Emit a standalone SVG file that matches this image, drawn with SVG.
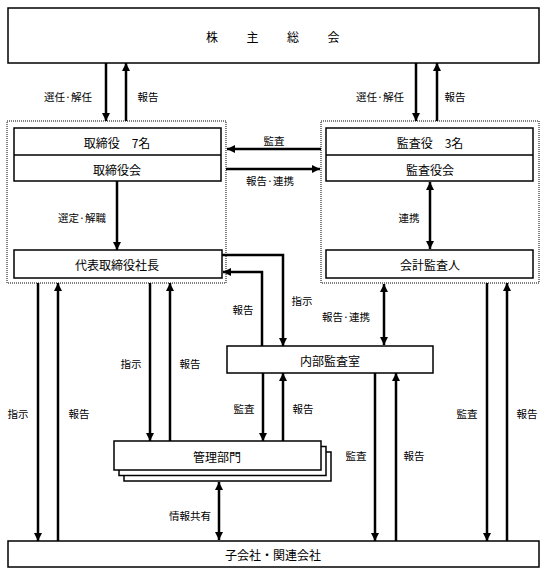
<svg xmlns="http://www.w3.org/2000/svg" width="545" height="572" viewBox="0 0 545 572">
<style>
.box{fill:#fff;stroke:#000;stroke-width:1.5}
.dot{fill:none;stroke:#000;stroke-width:1;stroke-dasharray:1 1}
.ln{fill:none;stroke:#000;stroke-width:2.5}
.t{font-family:"Noto Sans CJK JP","Noto Sans CJK SC",sans-serif;font-size:12px;fill:#000;text-anchor:middle;dominant-baseline:central}
.l{font-family:"Noto Sans CJK JP","Noto Sans CJK SC",sans-serif;font-size:10.5px;fill:#000;text-anchor:middle;dominant-baseline:central}
</style>
<defs>
<marker id="ah" markerUnits="userSpaceOnUse" markerWidth="9" markerHeight="8" refX="8" refY="4" orient="auto-start-reverse" viewBox="0 0 9 8">
<path d="M0,0 L8,4 L0,8 z" fill="#000"/>
</marker>
</defs>
<rect width="545" height="572" fill="#fff"/>

<g id="agm">
<rect class="box" x="8" y="8" width="531" height="55"/>
<text class="t" x="206" y="36" style="text-anchor:start;letter-spacing:8.25px">株　主　総　会</text>
</g>

<g id="board-group">
<rect class="dot" x="7" y="121" width="219" height="162"/>
</g>
<g id="board">
<rect class="box" x="14" y="128" width="207" height="53"/>
<line x1="14" y1="155" x2="221" y2="155" stroke="#000" stroke-width="1.5"/>
<text class="t" x="117" y="142">取締役　7名</text>
<text class="t" x="117" y="169">取締役会</text>
</g>
<g id="president">
<rect class="box" x="14" y="250" width="208" height="28"/>
<text class="t" x="117" y="264">代表取締役社長</text>
</g>

<g id="auditor-group">
<rect class="dot" x="321" y="121" width="218" height="162"/>
</g>
<g id="auditors">
<rect class="box" x="326" y="128" width="207" height="53"/>
<line x1="326" y1="155" x2="533" y2="155" stroke="#000" stroke-width="1.5"/>
<text class="t" x="430" y="142">監査役　3名</text>
<text class="t" x="430" y="169">監査役会</text>
</g>
<g id="accounting-auditor">
<rect class="box" x="326" y="250" width="207" height="28"/>
<text class="t" x="430" y="264">会計監査人</text>
</g>

<g id="internal-audit">
<rect class="box" x="227" y="346" width="206" height="27"/>
<text class="t" x="330" y="360">内部監査室</text>
</g>

<g id="admin">
<rect class="box" x="124" y="452" width="207" height="29"/>
<rect class="box" x="119" y="446.5" width="207" height="29"/>
<rect class="box" x="114" y="441" width="207" height="29"/>
<text class="t" x="217" y="456">管理部門</text>
</g>

<g id="subsidiaries">
<rect class="box" x="8" y="541" width="531" height="26"/>
<text class="t" x="273" y="554">子会社・関連会社</text>
</g>

<g id="connectors">
<line class="ln" x1="106" y1="63" x2="106" y2="121" marker-end="url(#ah)"/>
<line class="ln" x1="126" y1="121" x2="126" y2="63" marker-end="url(#ah)"/>
<line class="ln" x1="416" y1="63" x2="416" y2="121" marker-end="url(#ah)"/>
<line class="ln" x1="437" y1="121" x2="437" y2="63" marker-end="url(#ah)"/>
<line class="ln" x1="321" y1="149" x2="227" y2="149" marker-end="url(#ah)"/>
<line class="ln" x1="226" y1="169" x2="320" y2="169" marker-end="url(#ah)"/>
<line class="ln" x1="117" y1="181" x2="117" y2="250" marker-end="url(#ah)"/>
<line class="ln" x1="430" y1="182" x2="430" y2="249" marker-start="url(#ah)" marker-end="url(#ah)"/>
<path class="ln" d="M222,255 H283 V346" marker-end="url(#ah)"/>
<path class="ln" d="M262,346 V272 H223" marker-end="url(#ah)"/>
<line class="ln" x1="384" y1="284" x2="384" y2="345" marker-start="url(#ah)" marker-end="url(#ah)"/>
<line class="ln" x1="263" y1="373" x2="263" y2="441" marker-end="url(#ah)"/>
<line class="ln" x1="283" y1="441" x2="283" y2="373" marker-end="url(#ah)"/>
<line class="ln" x1="38" y1="283" x2="38" y2="541" marker-end="url(#ah)"/>
<line class="ln" x1="58" y1="541" x2="58" y2="283" marker-end="url(#ah)"/>
<line class="ln" x1="150" y1="283" x2="150" y2="441" marker-end="url(#ah)"/>
<line class="ln" x1="170" y1="441" x2="170" y2="283" marker-end="url(#ah)"/>
<line class="ln" x1="219" y1="482" x2="219" y2="540" marker-start="url(#ah)" marker-end="url(#ah)"/>
<line class="ln" x1="375" y1="373" x2="375" y2="541" marker-end="url(#ah)"/>
<line class="ln" x1="396" y1="541" x2="396" y2="373" marker-end="url(#ah)"/>
<line class="ln" x1="487" y1="283" x2="487" y2="541" marker-end="url(#ah)"/>
<line class="ln" x1="507" y1="541" x2="507" y2="283" marker-end="url(#ah)"/>
</g>

<g id="labels">
<text class="l" x="68" y="96">選任·解任</text>
<text class="l" x="148" y="96">報告</text>
<text class="l" x="380" y="96">選任·解任</text>
<text class="l" x="455" y="96">報告</text>
<text class="l" x="274" y="140">監査</text>
<text class="l" x="270" y="180">報告·連携</text>
<text class="l" x="82" y="217">選定·解職</text>
<text class="l" x="409" y="217">連携</text>
<text class="l" x="243" y="309">報告</text>
<text class="l" x="302" y="300">指示</text>
<text class="l" x="346" y="316">報告·連携</text>
<text class="l" x="131" y="363">指示</text>
<text class="l" x="190" y="363">報告</text>
<text class="l" x="18" y="413">指示</text>
<text class="l" x="79" y="413">報告</text>
<text class="l" x="244" y="408">監査</text>
<text class="l" x="303" y="408">報告</text>
<text class="l" x="356" y="455">監査</text>
<text class="l" x="414" y="455">報告</text>
<text class="l" x="467" y="413">監査</text>
<text class="l" x="527" y="413">報告</text>
<text class="l" x="190" y="515">情報共有</text>
</g>
</svg>
